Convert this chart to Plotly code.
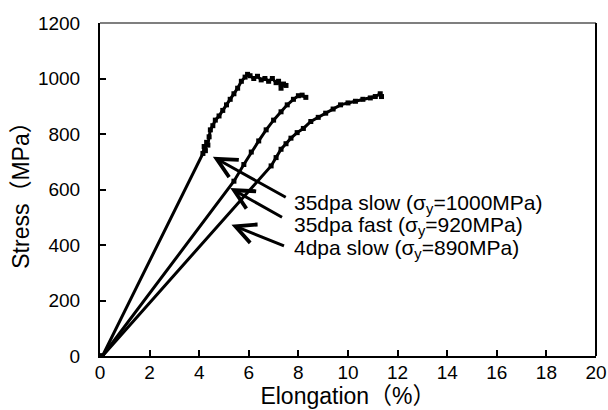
import plotly.graph_objects as go

# ---- data ----
elong_35_slow = [0.1, 4.15, 4.2, 4.25, 4.3, 4.35, 4.4, 4.45, 4.55, 4.65, 4.8, 4.95, 5.1, 5.25,
                 5.4, 5.55, 5.7, 5.85, 5.95, 6.05, 6.2, 6.35, 6.5, 6.65, 6.8, 6.95, 7.1, 7.2,
                 7.3, 7.4, 7.5]
stress_35_slow = [0, 730, 755, 740, 770, 760, 790, 815, 830, 850, 865, 885, 905, 925,
                  945, 965, 990, 1005, 1015, 1010, 1000, 1008, 995, 1000, 990, 1000, 985, 990,
                  965, 980, 975]

elong_35_fast = [0.1, 5.4, 5.8, 6.1, 6.4, 6.7, 7.0, 7.3, 7.55, 7.8, 8.0, 8.15, 8.3]
stress_35_fast = [0, 630, 690, 735, 775, 815, 850, 880, 905, 925, 938, 940, 932]

elong_4_slow = [0.1, 6.9, 7.1, 7.3, 7.5, 7.7, 7.95, 8.2, 8.5, 8.8, 9.1, 9.4, 9.7, 10.0,
                10.3, 10.6, 10.9, 11.1, 11.3, 11.35]
stress_4_slow = [0, 685, 715, 745, 765, 785, 805, 820, 845, 860, 875, 890, 905, 912,
                 918, 925, 930, 935, 945, 935]

labels = ["35dpa slow (σ<sub>y</sub>=1000MPa)",
          "35dpa fast (σ<sub>y</sub>=920MPa)",
          "4dpa slow (σ<sub>y</sub>=890MPa)"]
# arrow heads (points on curves) and tails (near text)
arrow_head_x = [4.55, 5.25, 5.3]
arrow_head_y = [718, 605, 473]
arrow_tail_x = [7.55, 7.4, 7.48]
arrow_tail_y = [569, 497, 395]
label_x = [7.76, 7.76, 7.76]
label_y = [548, 467, 386]

x_ticks = list(range(0, 21, 2))
y_ticks = list(range(0, 1201, 200))

FONT = "Arial, Liberation Sans, sans-serif"
TITLE_FONT = "Arial, Liberation Sans, Noto Sans CJK JP, sans-serif"

fig = go.Figure()
for xs, ys in [(elong_35_slow, stress_35_slow), (elong_35_fast, stress_35_fast),
               (elong_4_slow, stress_4_slow)]:
    fig.add_trace(go.Scatter(x=xs, y=ys, mode="lines+markers",
                             line=dict(color="black", width=3),
                             marker=dict(symbol="square", size=5, color="black"),
                             showlegend=False, hoverinfo="skip"))

for i in range(3):
    fig.add_annotation(x=arrow_head_x[i], y=arrow_head_y[i], ax=arrow_tail_x[i], ay=arrow_tail_y[i],
                       xref="x", yref="y", axref="x", ayref="y", text="",
                       showarrow=True, arrowhead=5, arrowsize=1.3, arrowwidth=3, arrowcolor="black")
    fig.add_annotation(x=label_x[i], y=label_y[i], xref="x", yref="y", text=labels[i],
                       showarrow=False, xanchor="left", yanchor="middle",
                       font=dict(family=FONT, size=21, color="black"))

# top and right frame lines
fig.add_shape(type="line", xref="paper", yref="paper", x0=0, x1=1, y0=1, y1=1,
              line=dict(color="#555555", width=1.5))
fig.add_shape(type="line", xref="paper", yref="paper", x0=1, x1=1, y0=0, y1=1,
              line=dict(color="black", width=2))

fig.update_layout(
    width=608, height=410,
    margin=dict(l=100, r=12, t=23, b=54),
    plot_bgcolor="white", paper_bgcolor="white",
    font=dict(family=FONT, size=19, color="black"),
)
fig.update_xaxes(range=[0, 20], tickvals=x_ticks, ticks="inside", ticklen=6, tickwidth=1.5,
                 tickcolor="black", showline=True, linecolor="black", linewidth=2,
                 showgrid=False, zeroline=False, automargin=False, ticklabelstandoff=-2,
                 title=dict(text="Elongation（%）", font=dict(family=TITLE_FONT, size=23), standoff=2))
fig.update_yaxes(range=[0, 1200], tickvals=y_ticks, ticks="inside", ticklen=6, tickwidth=1.5,
                 tickcolor="black", showline=True, linecolor="black", linewidth=2,
                 showgrid=False, zeroline=False, ticklabelstandoff=14, automargin=False,
                 title=dict(text="Stress（MPa）", font=dict(family=TITLE_FONT, size=23), standoff=2))

fig.write_html("out.html", config={"displayModeBar": False},
               post_script="document.body.style.margin='0';document.body.style.overflow='hidden';")
